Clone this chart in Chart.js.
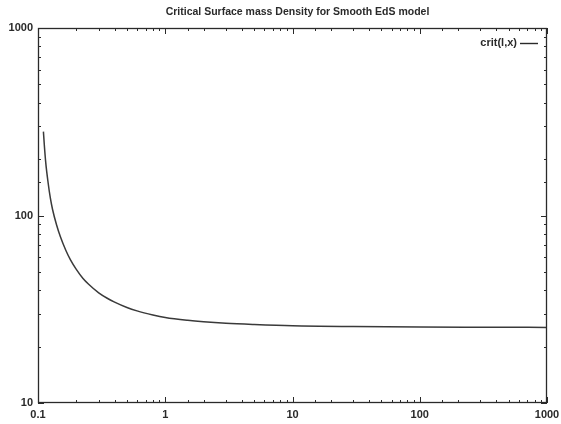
<!DOCTYPE html>
<html>
<head>
<meta charset="utf-8">
<script src="https://cdn.jsdelivr.net/npm/chart.js@4"></script>
<style>
  html, body { margin: 0; padding: 0; background: #fff; }
  #wrap { width: 561px; height: 424px; }
</style>
</head>
<body>
<div id="wrap"><canvas id="myChart" width="561" height="424"></canvas></div>
<script>
const titleText = "Critical Surface mass Density for Smooth EdS model"
const seriesLabel = "crit(l,x)"

// source redshift (x) and critical density
const xValues = [0.1103, 0.112, 0.115, 0.12, 0.125, 0.13, 0.14, 0.15, 0.165, 0.18, 0.2, 0.225, 0.25, 0.3, 0.35, 0.4, 0.5, 0.6, 0.8, 1, 1.5, 2, 3, 5, 10, 30, 100, 300, 1000]
const yValues = [280, 240, 192, 150, 124, 108, 89, 77, 65.5, 58, 51.6, 46.3, 43, 38.7, 36.2, 34.5, 32.3, 31, 29.5, 28.6, 27.6, 27.1, 26.6, 26.2, 25.8, 25.55, 25.4, 25.35, 25.3]

const xMin = 0.1, xMax = 1000
const yMin = 10, yMax = 1000

const ink = '#2a2a2a'
const tickFont = { family: "'Liberation Sans', Arial, sans-serif", size: 11, weight: 'bold' }

const isDecade = v => Math.abs(Math.log10(v) - Math.round(Math.log10(v))) < 1e-6

// gnuplot-like frame, inward ticks, title and in-plot key
const gnuFrame = {
  id: 'gnuFrame',
  afterDatasetsDraw(chart) {
    const c = chart.ctx, a = chart.chartArea
    const xs = chart.scales.x, ys = chart.scales.y
    c.save()
    c.strokeStyle = ink
    c.lineWidth = 1.3
    c.strokeRect(a.left + 0.5, a.top + 0.5, a.right - a.left - 1, a.bottom - a.top - 1)
    c.beginPath()
    c.lineWidth = 1
    xs.ticks.forEach(t => {
      const px = Math.round(xs.getPixelForValue(t.value)) + 0.5
      const len = isDecade(t.value) ? 6 : 3
      c.moveTo(px, a.bottom); c.lineTo(px, a.bottom - len)
      c.moveTo(px, a.top); c.lineTo(px, a.top + len)
    })
    ys.ticks.forEach(t => {
      const py = Math.round(ys.getPixelForValue(t.value)) + 0.5
      const len = isDecade(t.value) ? 6 : 3
      c.moveTo(a.left, py); c.lineTo(a.left + len, py)
      c.moveTo(a.right, py); c.lineTo(a.right - len, py)
    })
    c.stroke()

    c.fillStyle = ink
    c.font = "bold 10.5px 'Liberation Sans', Arial, sans-serif"
    c.textBaseline = 'middle'
    c.textAlign = 'center'
    c.fillText(titleText, (a.left + a.right) / 2 + 5, 12)

    c.font = "bold 11px 'Liberation Sans', Arial, sans-serif"
    c.textAlign = 'right'
    c.fillText(seriesLabel, a.right - 30, a.top + 15)
    c.beginPath()
    c.lineWidth = 1.4
    c.moveTo(a.right - 27, a.top + 15.5)
    c.lineTo(a.right - 9, a.top + 15.5)
    c.stroke()
    c.restore()
  }
}

const data = {
  datasets: [{
    label: seriesLabel,
    data: xValues.map((x, i) => ({ x: x, y: yValues[i] })),
    borderColor: '#3a3a3a',
    borderWidth: 1.5,
    pointRadius: 0,
    fill: false,
    cubicInterpolationMode: 'monotone'
  }]
}

const options = {
  responsive: false,
  animation: false,
  layout: { padding: { top: 28, right: 14, left: 0, bottom: 0 } },
  plugins: {
    legend: { display: false },
    title: { display: false },
    tooltip: { enabled: false }
  },
  scales: {
    x: {
      type: 'logarithmic',
      min: xMin,
      max: xMax,
      grid: { display: false, drawTicks: false },
      border: { display: false },
      afterFit(scale) {
        scale.height = 21
        scale.paddingLeft = 0
        scale.paddingRight = 0
      },
      ticks: {
        autoSkip: false,
        maxRotation: 0,
        padding: 5,
        color: ink,
        font: tickFont,
        callback: v => isDecade(v) ? String(v) : ''
      }
    },
    y: {
      type: 'logarithmic',
      min: yMin,
      max: yMax,
      grid: { display: false, drawTicks: false },
      border: { display: false },
      afterFit(scale) { scale.width = 38 },
      ticks: {
        autoSkip: false,
        padding: 5,
        color: ink,
        font: tickFont,
        callback: v => isDecade(v) ? String(v) : ''
      }
    }
  }
}

const config = {
  type: 'line',
  data: data,
  options: options,
  plugins: [gnuFrame]
}

const chart = new Chart(document.querySelector("#myChart"), config)
</script>
</body>
</html>
